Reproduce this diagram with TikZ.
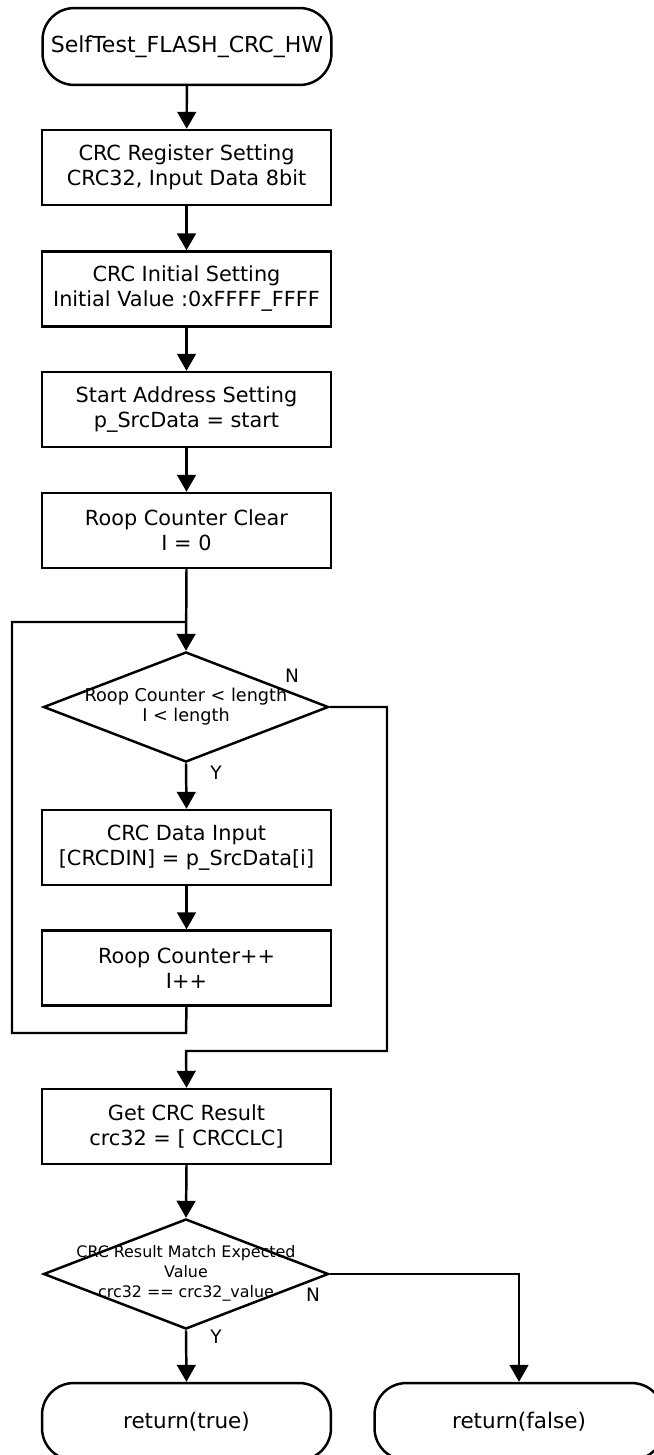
\documentclass[tikz,border=0pt]{standalone}
\usepackage{fontspec}
\setmainfont{DejaVu Sans}
\usetikzlibrary{shapes.geometric,arrows.meta}

\begin{document}
\begin{tikzpicture}[x=0.5669pt,y=-0.5669pt,
  line width=1.4pt,
  every node/.style={align=center, inner sep=0pt},
  boxtxt/.style={font=\fontsize{11.8}{14.2}\selectfont},
  procbox/.style={draw, rectangle, boxtxt, minimum width=163.8pt, minimum height=42.5pt},
  termbox/.style={draw, rectangle, rounded corners=18pt, font=\fontsize{12.2}{14.2}\selectfont, minimum width=163.8pt, minimum height=43.6pt},
  decbox/.style={draw, diamond, minimum width=161.6pt, minimum height=62.4pt},
  dectxt/.style={font=\fontsize{10}{11.3}\selectfont},
  yn/.style={font=\fontsize{10.5}{12}\selectfont},
  arr/.style={-{Triangle[length=9.6pt,width=10.6pt]}}
]
\useasboundingbox (0,0) rectangle (654,1455);
\clip (0,0) rectangle (654,1455);

% main column
\node[termbox, font=\fontsize{12.5}{15}\selectfont] (start) at (187,46.5) {SelfTest\_FLASH\_CRC\_HW};
\node[procbox] (b1) at (186.5,167.5) {CRC Register Setting\\CRC32, Input Data 8bit};
\node[procbox] (b2) at (186.5,289) {CRC Initial Setting\\Initial Value :0xFFFF\_FFFF};
\node[procbox] (b3) at (186.5,409.5) {Start Address Setting\\p\_SrcData = start};
\node[procbox] (b4) at (186.5,530.5) {Roop Counter Clear\\I = 0};

% loop test
\node[decbox] (d1) at (186,707) {};
\node[dectxt] (d1t) at (186,707) {Roop Counter < length\\I < length};
\node[yn] (n1) at (292,676) {N};
\node[yn] (y1) at (216,773) {Y};

\node[procbox] (b5) at (186.5,847.5) {CRC Data Input\\{[CRCDIN]} = p\_SrcData[i]};
\node[procbox] (b6) at (186.5,968) {Roop Counter++\\I++};

\node[procbox] (b7) at (186.5,1126.5) {Get CRC Result\\crc32 = [ CRCCLC]};

% result check
\node[decbox] (d2) at (186,1274) {};
\node[dectxt, font=\fontsize{9}{11.3}\selectfont] (d2t) at (186,1273) {CRC Result Match Expected\\Value\\crc32 == crc32\_value};
\node[yn] (n2) at (313,1295) {N};
\node[yn] (y2) at (216,1337) {Y};

\node[termbox] (tr) at (186.5,1421.5) {return(true)};
\node[termbox] (fa) at (519,1421.5) {return(false)};

% routing points
\coordinate (lj) at (186,622);
\coordinate (lt) at (12,622);
\coordinate (ll) at (12,1033);
\coordinate (lb) at (186,1033);
\coordinate (rb) at (387,1051);
\coordinate (mj) at (186,1051);

% connectors
\draw[arr] (start) -- (b1);
\draw[arr] (b1) -- (b2);
\draw[arr] (b2) -- (b3);
\draw[arr] (b3) -- (b4);
\draw[arr] (b4.south) -- (d1.north);
\draw[arr] (d1.south) -- (b5.north);
\draw[arr] (b5) -- (b6);
\draw (b6.south) -- (lb) -- (ll) -- (lt) -- (lj);
\draw[arr] (d1.east) -| (rb) -- (mj) -- (b7.north);
\draw[arr] (b7.south) -- (d2.north);
\draw[arr] (d2.south) -- (tr.north);
\draw[arr] (d2.east) -| (fa.north);
\end{tikzpicture}
\end{document}
